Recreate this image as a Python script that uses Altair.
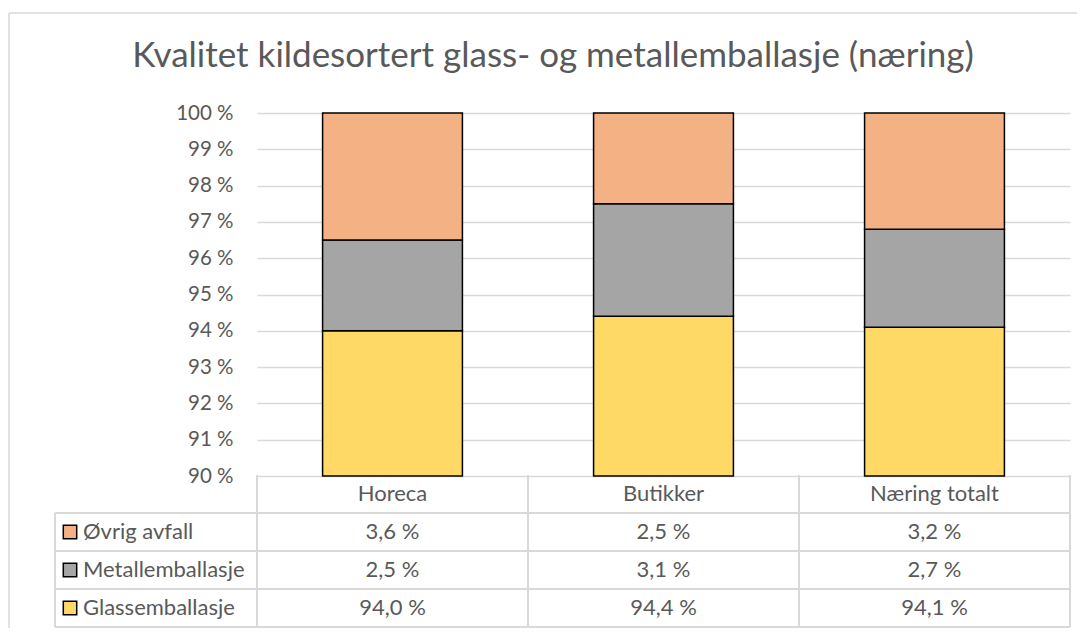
import altair as alt
import pandas as pd

# ---- data ----
categories = ["Horeca", "Butikker", "Næring totalt"]
series = ["Glassemballasje", "Metallemballasje", "Øvrig avfall"]
glass = [94.0, 94.4, 94.1]
metall = [2.5, 3.1, 2.7]
ovrig = [3.6, 2.5, 3.2]
colors = ["#FFD966", "#A5A5A5", "#F4B183"]
y_ticks = [90, 91, 92, 93, 94, 95, 96, 97, 98, 99, 100]
title_text = "Kvalitet kildesortert glass- og metallemballasje (næring)"
table_rows = ["_header", "Øvrig avfall", "Metallemballasje", "Glassemballasje"]

FONT = "Lato"
TXT = "#595959"
GRID = "#D9D9D9"
W, H = 813, 363
FS_AX = 20.5
FS_TB = 22

recs = []
for i, c in enumerate(categories):
    for j, (s, v) in enumerate(zip(series, [glass[i], metall[i], ovrig[i]])):
        recs.append({"category": c, "series": s, "value": v, "order": j,
                     "label": f"{v:.1f}".replace(".", ",") + " %"})
df = pd.DataFrame(recs)
df["row"] = df["series"]

hdr = pd.DataFrame({"category": categories, "row": "_header", "label": categories})
ser = pd.DataFrame({"series": series, "row": series})

xsc = alt.Scale(domain=categories, paddingInner=0, paddingOuter=0)
csc = alt.Scale(domain=series, range=colors)


def tsc():
    return alt.Scale(domain=table_rows, range=[362, 514], paddingInner=0, paddingOuter=0)


X = alt.X("category:N", sort=categories, scale=xsc, axis=None)

bars = alt.Chart(df).mark_bar(
    width=alt.RelativeBandSize(0.516), stroke="black", strokeWidth=1.5
).encode(
    x=X,
    y=alt.Y("value:Q", stack="zero", title=None,
            scale=alt.Scale(domain=[90, 100], clamp=True, nice=False, zero=False),
            axis=alt.Axis(values=y_ticks, labelExpr="datum.value + ' %'", ticks=False,
                          domain=False, labelPadding=24, labelFont=FONT, labelFontSize=FS_AX,
                          labelColor=TXT, gridColor=GRID, gridWidth=1.5)),
    color=alt.Color("series:N", scale=csc, legend=None),
    order=alt.Order("order:Q"),
)

# table cells
cells = alt.Chart(df).mark_text(font=FONT, fontSize=FS_TB, color=TXT, baseline="middle").encode(
    x=X, y=alt.Y("row:N", scale=tsc(), axis=None), text="label:N")
heads = alt.Chart(hdr).mark_text(font=FONT, fontSize=FS_TB, color=TXT, baseline="middle").encode(
    x=X, y=alt.Y("row:N", scale=tsc(), axis=None), text="label:N")
rowlab = alt.Chart(ser).mark_text(font=FONT, fontSize=FS_TB, color=TXT, align="left",
                                  baseline="middle").encode(
    x=alt.value(-174), y=alt.Y("row:N", scale=tsc(), axis=None), text="series:N")
keys = alt.Chart(ser).mark_square(size=180, stroke="black", strokeWidth=1.5, opacity=1).encode(
    x=alt.value(-187), y=alt.Y("row:N", scale=tsc(), axis=None),
    color=alt.Color("series:N", scale=csc, legend=None))

# table lines
hlines = alt.Chart(ser).mark_rule(color=GRID, strokeWidth=2).encode(
    y=alt.Y("row:N", scale=tsc(), axis=None, bandPosition=0),
    x=alt.value(-202), x2=alt.value(W))
bline = alt.Chart(ser[ser["series"] == "Glassemballasje"]).mark_rule(color=GRID, strokeWidth=2).encode(
    y=alt.Y("row:N", scale=tsc(), axis=None, bandPosition=1),
    x=alt.value(-202), x2=alt.value(W))
vcat = pd.DataFrame({"category": categories})
vlines = alt.Chart(vcat).mark_rule(color=GRID, strokeWidth=2).encode(
    x=alt.X("category:N", sort=categories, scale=xsc, axis=None, bandPosition=0),
    y=alt.value(362), y2=alt.value(514))
vlast = alt.Chart(vcat[vcat["category"] == categories[-1]]).mark_rule(color=GRID, strokeWidth=2).encode(
    x=alt.X("category:N", sort=categories, scale=xsc, axis=None, bandPosition=1),
    y=alt.value(362), y2=alt.value(514))
vleft = alt.Chart(vcat.head(1)).mark_rule(color=GRID, strokeWidth=2).encode(
    x=alt.value(-202), y=alt.value(400), y2=alt.value(514))

# chart frame and title
frame_l = alt.Chart(vcat.head(1)).mark_rule(color=GRID, strokeWidth=1.5).encode(
    x=alt.value(-248), y=alt.value(-100), y2=alt.value(520))
frame_t = alt.Chart(vcat.head(1)).mark_rule(color=GRID, strokeWidth=1.5).encode(
    x=alt.value(-248), x2=alt.value(W + 20), y=alt.value(-100))
title = alt.Chart(pd.DataFrame({"t": [title_text]})).mark_text(
    font=FONT, fontSize=35, color=TXT, baseline="alphabetic", align="center"
).encode(x=alt.value(296), y=alt.value(-46), text="t:N")

chart = alt.layer(
    frame_l, frame_t, title, bars, hlines, bline, vlines, vlast, vleft,
    cells, heads, rowlab, keys
).resolve_scale(y="independent").properties(
    width=W, height=H,
    autosize=alt.AutoSizeParams(type="none"),
    padding={"left": 249, "top": 105, "right": 7, "bottom": 152},
    background="white",
).configure_view(stroke=None)

chart.save("out.html", embed_options={"renderer": "svg", "actions": False})
